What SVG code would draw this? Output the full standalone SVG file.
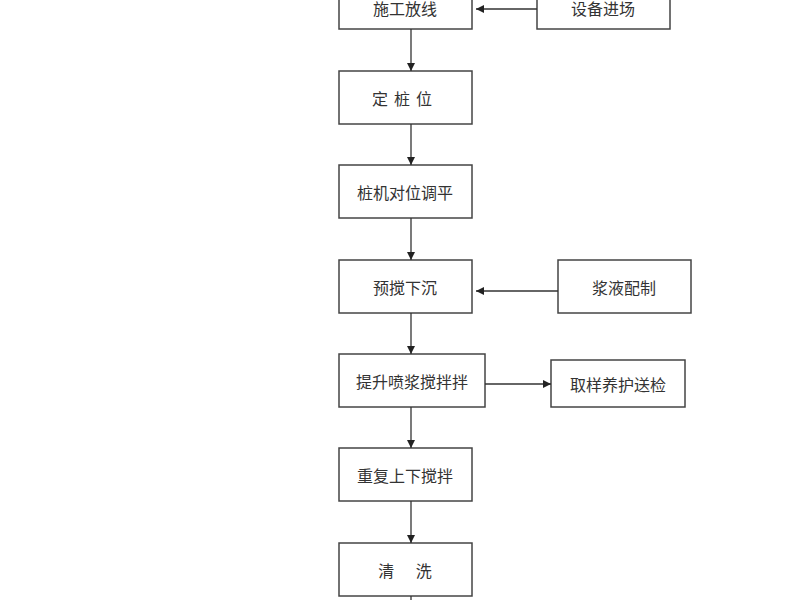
<svg xmlns="http://www.w3.org/2000/svg" width="800" height="600" viewBox="0 0 800 600">
<defs><marker id="a" markerWidth="8" markerHeight="8" refX="8" refY="4" orient="auto" markerUnits="userSpaceOnUse"><path d="M0,0 L8,4 L0,8 Z" fill="#222"/></marker></defs>
<style>rect{fill:#fff;stroke:#444;stroke-width:1.5}text{font-family:"Noto Sans CJK SC",sans-serif;font-size:16px;fill:#333;text-anchor:middle;dominant-baseline:central}line{stroke:#333;stroke-width:1.3}</style>
<rect width="800" height="600" style="stroke:none"/>
<g id="n1"><rect x="339" y="-10" width="133" height="39"/><text x="405" y="8">施工放线</text></g>
<g id="n2"><rect x="537" y="-10" width="133" height="39"/><text x="603" y="8">设备进场</text></g>
<g id="n3"><rect x="339" y="71" width="133" height="53"/><text x="405" y="98" letter-spacing="6">定桩位</text></g>
<g id="n4"><rect x="339" y="165" width="133" height="53"/><text x="405" y="192">桩机对位调平</text></g>
<g id="n5"><rect x="339" y="260" width="133" height="53"/><text x="405" y="287">预搅下沉</text></g>
<g id="n6"><rect x="558" y="260" width="133" height="53"/><text x="624" y="287">浆液配制</text></g>
<g id="n7"><rect x="339" y="354" width="146" height="53"/><text x="412" y="381">提升喷浆搅拌拌</text></g>
<g id="n8"><rect x="551" y="360" width="134" height="47"/><text x="618" y="384">取样养护送检</text></g>
<g id="n9"><rect x="339" y="448" width="133" height="53"/><text x="405" y="475">重复上下搅拌</text></g>
<g id="n10"><rect x="339" y="543" width="133" height="53"/><text x="405" y="570" xml:space="preserve">清      洗</text></g>
<g id="edges">
<line x1="537" y1="9" x2="476" y2="9" marker-end="url(#a)"/>
<line x1="411" y1="29" x2="411" y2="71" marker-end="url(#a)"/>
<line x1="411" y1="124" x2="411" y2="165" marker-end="url(#a)"/>
<line x1="411" y1="218" x2="411" y2="260" marker-end="url(#a)"/>
<line x1="558" y1="291" x2="476" y2="291" marker-end="url(#a)"/>
<line x1="411" y1="313" x2="411" y2="354" marker-end="url(#a)"/>
<line x1="485" y1="384" x2="551" y2="384" marker-end="url(#a)"/>
<line x1="411" y1="407" x2="411" y2="448" marker-end="url(#a)"/>
<line x1="411" y1="501" x2="411" y2="543" marker-end="url(#a)"/>
<line x1="411" y1="596" x2="411" y2="600"/>
</g>
</svg>
